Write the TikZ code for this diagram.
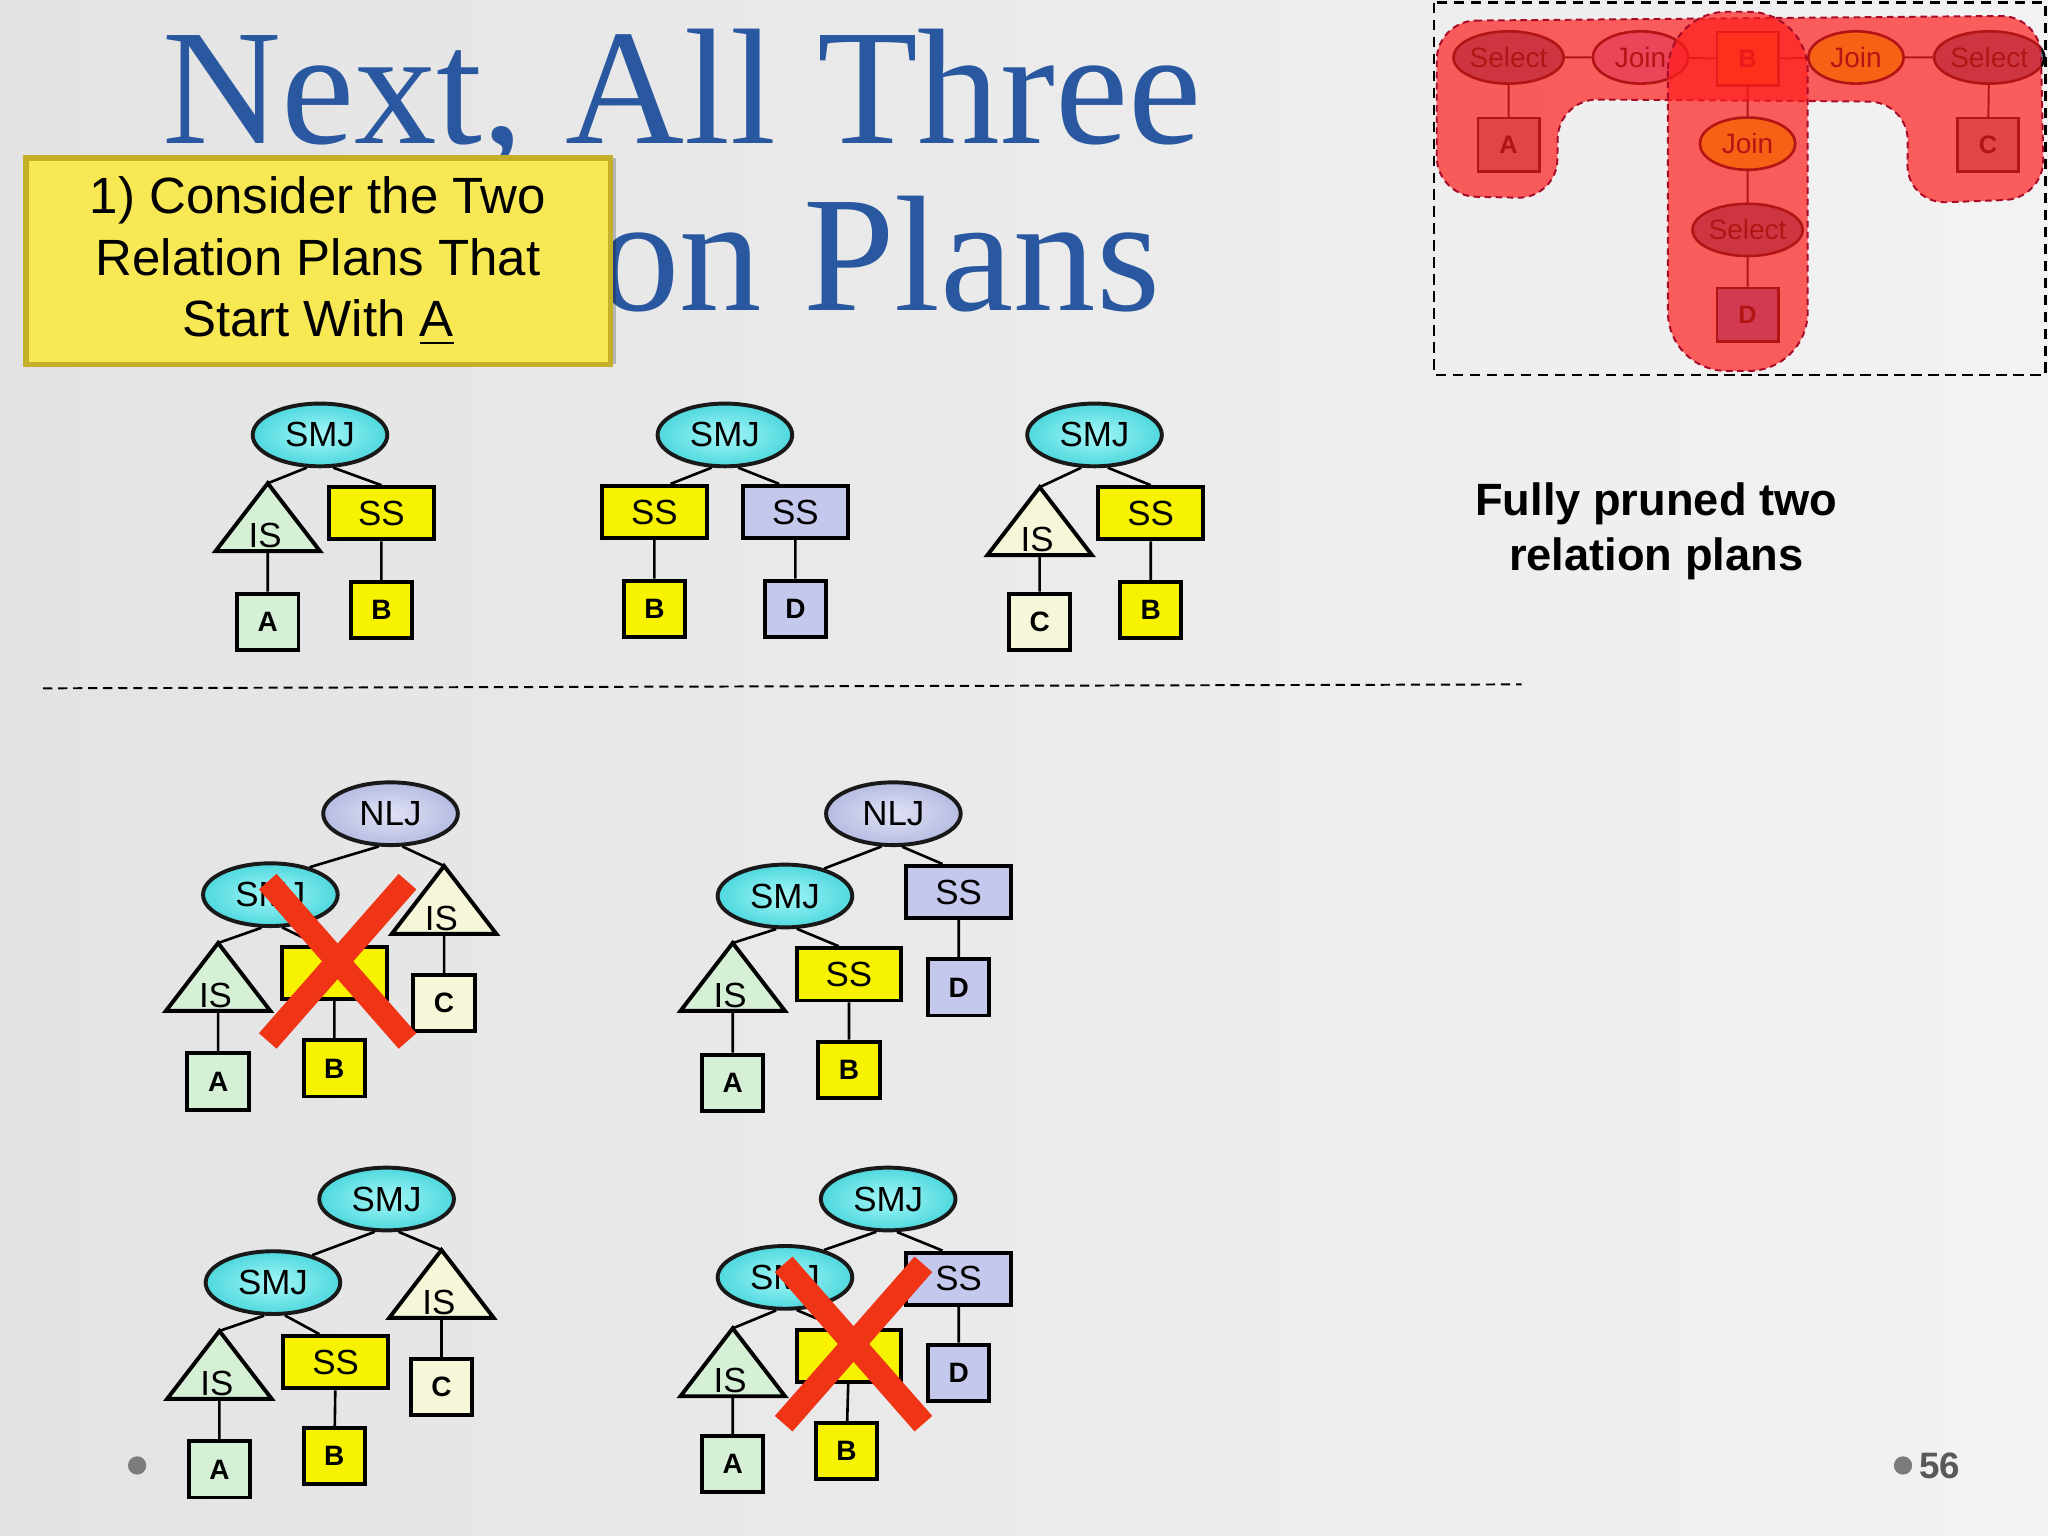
\documentclass[tikz,border=0pt]{standalone}
\usepackage{fontspec}
\setmainfont{Liberation Sans}
\newfontfamily\titlefont{Liberation Serif}
\usepackage{tikz}
\usetikzlibrary{shapes.geometric}
\definecolor{titleblue}{RGB}{42,88,160}
\definecolor{notefill}{RGB}{248,232,84}
\definecolor{noteedge}{RGB}{196,176,40}
\definecolor{smjin}{RGB}{165,247,247}
\definecolor{smjout}{RGB}{78,216,222}
\definecolor{nljin}{RGB}{224,226,244}
\definecolor{nljout}{RGB}{182,188,226}
\definecolor{ssyellow}{RGB}{246,242,0}
\definecolor{sslav}{RGB}{196,200,236}
\definecolor{relgreen}{RGB}{214,240,214}
\definecolor{relcream}{RGB}{246,246,216}
\definecolor{xred}{RGB}{240,52,22}
\definecolor{blobred}{RGB}{255,30,30}
\definecolor{blobedge}{RGB}{168,10,40}
\definecolor{selbase}{RGB}{90,110,150}
\definecolor{joinbase}{RGB}{188,163,230}
\definecolor{orgbase}{RGB}{225,255,0}
\definecolor{relbase}{RGB}{155,163,163}
\definecolor{dbase}{RGB}{105,130,197}
\definecolor{pagegray}{RGB}{110,110,110}

\begin{document}
\begin{tikzpicture}[x=0.01cm,y=-0.01cm,
        op/.style={ellipse,draw=black!90,line width=0.03cm,minimum width=1.03cm,
            minimum height=0.48cm,inner sep=0pt,font=\fontsize{7.6}{9}\selectfont},
        smj/.style={op,inner color=smjin,outer color=smjout},
        nlj/.style={op,inner color=nljin,outer color=nljout},
        scan/.style={draw=black,line width=0.03cm,minimum width=0.8cm,minimum height=0.4cm,
            inner sep=0pt,font=\fontsize{7.6}{9}\selectfont,fill=#1},
        rel/.style={draw=black,line width=0.03cm,minimum width=0.47cm,minimum height=0.43cm,
            inner sep=0pt,font=\bfseries\fontsize{6.1}{7}\selectfont,fill=#1},
        edge/.style={line width=0.02cm},
        istri/.pic={
            \filldraw[fill=#1,draw=black,line width=0.03cm] (0,0) coordinate (-apex)
                -- (40,52) -- (-40,52) -- cycle;
            \coordinate (-base) at (0,52);
            \node[font=\fontsize{7.6}{9}\selectfont] (-lbl) at (-2,40) {IS};
        },
        nogo/.style={draw=xred,line width=0.18cm},
        inop/.style={ellipse,draw=black,line width=0.02cm,minimum width=0.79cm,
            minimum height=0.4cm,inner sep=0pt,font=\fontsize{6.1}{7}\selectfont,fill=#1},
        inrel/.style={draw=black,line width=0.02cm,minimum width=0.47cm,minimum height=0.41cm,
            inner sep=0pt,font=\bfseries\fontsize{5.5}{6}\selectfont,fill=#1},
        blob/.style={fill=blobred,fill opacity=0.7,draw=blobedge,
            dash pattern=on 0.05cm off 0.035cm,line width=0.015cm}]
    \useasboundingbox (0,0) rectangle (1568,1176);
    \fill[left color=black!11,middle color=white,right color=black!5]
        (0,0) rectangle (1568,1176);

    \node[font=\titlefont\fontsize{35.9}{40}\selectfont,text=titleblue,anchor=base]
        (ttl1) at (522,110) {Next, All Three};
    \node[font=\titlefont\fontsize{35.9}{40}\selectfont,text=titleblue,anchor=base]
        (ttl2) at (522,238) {Relation Plans};

    \fill[black,opacity=0.22] (25,121) rectangle (472,279);
    \node[fill=notefill,draw=noteedge,line width=0.04cm,minimum width=4.47cm,
        minimum height=1.58cm,inner sep=0pt,align=center,
        font=\fontsize{11.1}{13.4}\selectfont]
        (note) at (243.5,200) {1) Consider the Two\\Relation Plans That\\Start With \underline{A}};

    \node[smj] (p1j) at (245,333) {SMJ};
    \pic (p1is) at (205,370) {istri=relgreen};
    \node[scan=ssyellow] (p1ss) at (292,393) {SS};
    \node[rel=relgreen] (p1a) at (205,476) {A};
    \node[rel=ssyellow] (p1b) at (292,467) {B};
    \draw[edge] (p1j.-112) -- (p1is-apex) (p1j.-68) -- (p1ss.north)
        (p1is-base) -- (p1a) (p1ss) -- (p1b);

    \node[smj] (p2j) at (555,333) {SMJ};
    \node[scan=ssyellow] (p2ss) at (501,392) {SS};
    \node[scan=sslav] (p2sd) at (609,392) {SS};
    \node[rel=ssyellow] (p2b) at (501,466) {B};
    \node[rel=sslav] (p2d) at (609,466) {D};
    \draw[edge] (p2j.-112) -- (p2ss.60) (p2j.-68) -- (p2sd.120)
        (p2ss) -- (p2b) (p2sd) -- (p2d);

    \node[smj] (p3j) at (838,333) {SMJ};
    \pic (p3is) at (796,373) {istri=relcream};
    \node[scan=ssyellow] (p3ss) at (881,393) {SS};
    \node[rel=relcream] (p3c) at (796,476) {C};
    \node[rel=ssyellow] (p3b) at (881,467) {B};
    \draw[edge] (p3j.-112) -- (p3is-apex) (p3j.-68) -- (p3ss.north)
        (p3is-base) -- (p3c) (p3ss) -- (p3b);

    \node[align=center,font=\bfseries\fontsize{9.85}{11.95}\selectfont]
        (pruned) at (1268,407) {Fully pruned two\\relation plans};

    \draw[line width=0.015cm,dash pattern=on 0.07cm off 0.045cm] (33,527) -- (1165,524);

    \node[nlj] (p4n) at (299,623) {NLJ};
    \node[smj] (p4j) at (207,685) {SMJ};
    \pic (p4r) at (340,663) {istri=relcream};
    \pic (p4l) at (167,722) {istri=relgreen};
    \node[scan=ssyellow] (p4ss) at (256,745) {};
    \node[rel=relcream] (p4c) at (340,768) {C};
    \node[rel=relgreen] (p4a) at (167,828) {A};
    \node[rel=ssyellow] (p4b) at (256,818) {B};
    \draw[edge] (p4n.-110) -- (p4j.35) (p4n.-70) -- (p4r-apex)
        (p4j.-105) -- (p4l-apex) (p4j.-70) -- (p4ss.120)
        (p4r-base) -- (p4c) (p4l-base) -- (p4a) (p4ss) -- (p4b);
    \draw[nogo] (205,675) -- (312,797);
    \draw[nogo] (312,675) -- (205,797);

    \node[nlj] (p5n) at (684,623) {NLJ};
    \node[smj] (p5j) at (601,686) {SMJ};
    \node[scan=sslav] (p5sd) at (734,683) {SS};
    \pic (p5l) at (561,722) {istri=relgreen};
    \node[scan=ssyellow] (p5ss) at (650,746) {SS};
    \node[rel=sslav] (p5d) at (734,756) {D};
    \node[rel=relgreen] (p5a) at (561,829) {A};
    \node[rel=ssyellow] (p5b) at (650,819) {B};
    \draw[edge] (p5n.-110) -- (p5j.35) (p5n.-75) -- (p5sd.120)
        (p5j.-105) -- (p5l-apex) (p5j.-70) -- (p5ss.110)
        (p5sd) -- (p5d) (p5l-base) -- (p5a) (p5ss) -- (p5b);

    \node[smj] (p6n) at (296,918) {SMJ};
    \node[smj] (p6j) at (209,982) {SMJ};
    \pic (p6r) at (338,957) {istri=relcream};
    \pic (p6l) at (168,1019) {istri=relgreen};
    \node[scan=ssyellow] (p6ss) at (257,1043) {SS};
    \node[rel=relcream] (p6c) at (338,1062) {C};
    \node[rel=relgreen] (p6a) at (168,1125) {A};
    \node[rel=ssyellow] (p6b) at (256,1115) {B};
    \draw[edge] (p6n.-110) -- (p6j.35) (p6n.-70) -- (p6r-apex)
        (p6j.-105) -- (p6l-apex) (p6j.-70) -- (p6ss.120)
        (p6r-base) -- (p6c) (p6l-base) -- (p6a) (p6ss) -- (p6b);

    \node[smj] (p7n) at (680,918) {SMJ};
    \node[smj] (p7j) at (601,978) {SMJ};
    \node[scan=sslav] (p7sd) at (734,979) {SS};
    \pic (p7l) at (561,1017) {istri=relgreen};
    \node[scan=ssyellow] (p7ss) at (650,1038) {};
    \node[rel=sslav] (p7d) at (734,1051) {D};
    \node[rel=relgreen] (p7a) at (561,1121) {A};
    \node[rel=ssyellow] (p7b) at (648,1111) {B};
    \draw[edge] (p7n.-110) -- (p7j.35) (p7n.-75) -- (p7sd.120)
        (p7j.-105) -- (p7l-apex) (p7j.-70) -- (p7ss.110)
        (p7sd) -- (p7d) (p7l-base) -- (p7a) (p7ss) -- (p7b);
    \draw[nogo] (600,968) -- (707,1090);
    \draw[nogo] (707,968) -- (600,1090);

    \node[inop=selbase] (isel1) at (1155,44) {Select};
    \node[inop=joinbase,minimum width=0.73cm] (ijn1) at (1256,44) {Join};
    \node[inrel=ssyellow] (ib) at (1338,45) {B};
    \node[inop=orgbase,minimum width=0.73cm] (ijn2) at (1421,44) {Join};
    \node[inop=selbase] (isel2) at (1523,44) {Select};
    \node[inrel=relbase] (ia) at (1155,111) {A};
    \node[inrel=relbase] (ic) at (1522,111) {C};
    \node[inop=orgbase,minimum width=0.73cm] (ijn3) at (1338,110) {Join};
    \node[inop=selbase] (isel3) at (1338,176) {Select};
    \node[inrel=dbase] (id) at (1338,241) {D};
    \draw[line width=0.015cm] (isel1) -- (ijn1) -- (ib) -- (ijn2) -- (isel2)
        (isel1) -- (ia) (isel2) -- (ic) (ib) -- (ijn3) -- (isel3) -- (id);
    \path[blob,rounded corners=0.3cm] (1100,16) -- (1562,12) -- (1565,152) -- (1460,156)
        -- (1461,78) -- (1193,76) -- (1192,152) -- (1100,150) -- cycle;
    \path[blob,rounded corners=0.45cm] (1277,9) rectangle (1384,284);
    \draw[line width=0.02cm,dash pattern=on 0.08cm off 0.05cm] (1098,2) rectangle (1566,287);

    \fill[pagegray!90] (105,1122) circle (0.07cm);
    \fill[pagegray!90] (1457,1122) circle (0.07cm);
    \node[font=\bfseries\fontsize{8}{9}\selectfont,text=black!65] (pgno) at (1485,1122) {56};
\end{tikzpicture}
\end{document}
